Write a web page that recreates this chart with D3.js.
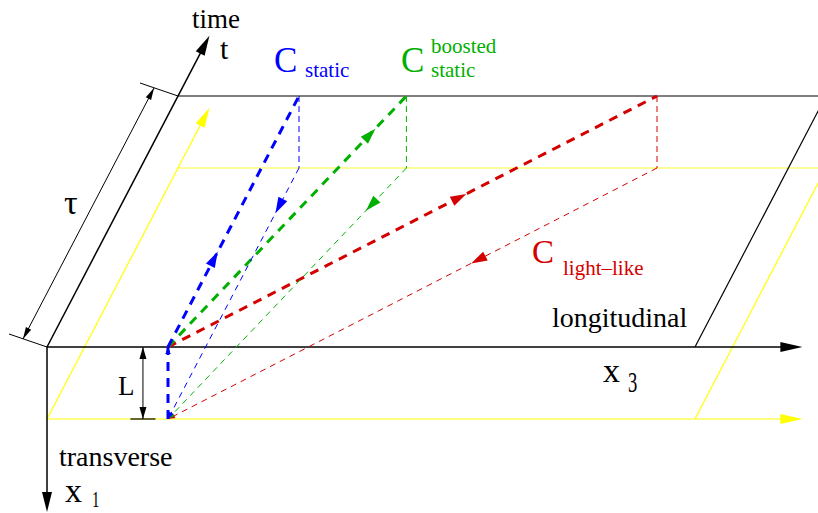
<!DOCTYPE html>
<meta charset="utf-8">
<style>
body { margin: 0; background: #fff; }
</style>
<svg width="818" height="513"></svg>
<script src="https://d3js.org/d3.v7.min.js"></script>
<script>

// Wilson loops in (x3, t, x1) space. t in units of tau, x1 in units of L,
// x3 in units of tau (light-like loop spans one tau along x3).
var loopNames  = ["static", "boosted", "light-like"];
var loopColors = ["#0000ff", "#00b000", "#d40000"];
var loopDx3    = [0, 0.30, 1.0];     // longitudinal extent of each loop
var loopStart  = 0.338;              // x3 where all loops start
var arrowThick = [0.38, 0.87, 0.61]; // arrow position along the thick leg
var arrowThin  = [0.18, 0.17, 0.38]; // arrow position along the thin leg

var planeX3   = 1.81;  // right edge of the drawn planes
var axisX3    = 2.11;  // tip of x3 axis
var axisT     = 1.24;  // tip of t axis
var axisX1    = 2.29;  // tip of x1 axis
var dimLX3    = 0.268; // where the L dimension sits

var serif = "Liberation Serif, DejaVu Serif, serif";

var svg = d3.select("svg");

// oblique projection: one scale per screen component
var x3px = d3.scaleLinear().domain([0, 1]).range([0, 358]),
    tpx  = d3.scaleLinear().domain([0, 1]).range([0, 131]),
    tpy  = d3.scaleLinear().domain([0, 1]).range([0, -251]),
    x1py = d3.scaleLinear().domain([0, 1]).range([0, 72]);

var g = svg.append("g").attr("transform", "translate(47,347)");

function P(x3, t, x1) {
  return [x3px(x3) + tpx(t), tpy(t) + x1py(x1 || 0)];
}

function line(a, b, color, w, dash) {
  return g.append("line")
      .attr("x1", a[0]).attr("y1", a[1])
      .attr("x2", b[0]).attr("y2", b[1])
      .attr("stroke", color)
      .attr("stroke-width", w)
      .attr("stroke-dasharray", dash || null);
}

// filled arrowhead with tip at p, pointing along direction a->b
function head(a, b, p, color, len, hw) {
  var dx = b[0] - a[0], dy = b[1] - a[1], n = Math.hypot(dx, dy);
  dx /= n; dy /= n;
  var bx = p[0] - dx * len, by = p[1] - dy * len;
  g.append("path")
      .attr("d", "M" + p + "L" + [bx - dy * hw, by + dx * hw] + "L" + [bx + dy * hw, by - dx * hw] + "Z")
      .attr("fill", color);
}

function lerp(a, b, f) { return [a[0] + (b[0] - a[0]) * f, a[1] + (b[1] - a[1]) * f]; }

// yellow plane at x1 = L
line(P(0, 0, 1), P(axisX3 - 0.05, 0, 1), "#ffff00", 1.2);
head(P(0, 0, 1), P(axisX3, 0, 1), P(axisX3, 0, 1), "#ffff00", 22, 5);
line(P(0, 0, 1), P(0, axisT - 0.05, 1), "#ffff00", 1.2);
head(P(0, 0, 1), P(0, axisT, 1), P(0, axisT, 1), "#ffff00", 20, 5);
line(P(0, 1, 1), P(planeX3, 1, 1), "#ffff00", 0.8);
line(P(planeX3, 0, 1), P(planeX3, 1, 1), "#ffff00", 1.2);

// black plane at x1 = 0
line(P(0, 1), P(planeX3, 1), "#000", 1.2);
line(P(planeX3, 0), P(planeX3, 1), "#000", 1.2);

// axes
line(P(0, 0), P(axisX3 - 0.05, 0), "#000", 1.5);
head(P(0, 0), P(axisX3, 0), P(axisX3, 0), "#000", 22, 5);
line(P(0, 0), P(0, axisT - 0.05), "#000", 1.5);
head(P(0, 0), P(0, axisT), P(0, axisT), "#000", 20, 5);
line(P(0, 0), P(0, 0, axisX1 - 0.2), "#000", 1.5);
head(P(0, 0), P(0, 0, axisX1), P(0, 0, axisX1), "#000", 20, 5);

// tau dimension
var tick = [-38, -13], off = [-24, -8];
[0, 1].forEach(function(t) {
  var p = P(0, t);
  line(p, [p[0] + tick[0], p[1] + tick[1]], "#000", 1);
});
var d0 = P(0, 0), d1 = P(0, 1);
d0 = [d0[0] + off[0], d0[1] + off[1]];
d1 = [d1[0] + off[0], d1[1] + off[1]];
line(d0, d1, "#000", 1);
head(d0, d1, d1, "#000", 12, 3);
head(d1, d0, d0, "#000", 12, 3);

// L dimension
var l0 = P(dimLX3, 0, 0), l1 = P(dimLX3, 0, 1);
line(l0, l1, "#000", 1);
head(l0, l1, l1, "#000", 12, 3.5);
head(l1, l0, l0, "#000", 12, 3.5);
line(P(dimLX3 - 0.035, 0, 1), P(dimLX3 + 0.035, 0, 1), "#000", 1.2);

// loops, drawn back to front
loopNames.forEach(function(name, i) {
  var i2 = loopNames.length - 1 - i;
  var c = loopColors[i2], dx = loopDx3[i2];
  var A = P(loopStart, 0, 0), B = P(loopStart + dx, 1, 0),
      C = P(loopStart + dx, 1, 1), D = P(loopStart, 0, 1);
  line(A, B, c, 3, "9,7");
  line(B, C, c, 1, "6,4");
  line(C, D, c, 1, "6,5");
  head(A, B, lerp(A, B, arrowThick[i2]), c, 16, 5);
  head(C, D, lerp(C, D, arrowThin[i2]), c, 16, 5);
  head(C, D, D, c, 7, 2.5);
  head(D, A, A, c, 7, 2.5);
});
line(P(loopStart, 0, 1), P(loopStart, 0, 0), loopColors[0], 3, "9,7");

// labels
function label(x, y, s, size, color) {
  return svg.append("text").attr("x", x).attr("y", y)
      .style("font-family", serif)
      .attr("font-size", size).attr("fill", color || "#000").text(s);
}
label(192, 28, "time", 27);
label(220, 59, "t", 30);
label(64, 214, "τ", 34);
label(552, 327, "longitudinal", 28);
label(59, 466, "transverse", 28);
label(118, 395, "L", 27);
label(603, 382, "x", 34);
label(65, 502, "x", 34);
svg.append("text").attr("transform", "translate(92,507) scale(0.62,1)")
    .style("font-family", serif).attr("font-size", 24).text("1");
svg.append("text").attr("transform", "translate(628,392) scale(0.62,1)")
    .style("font-family", serif).attr("font-size", 30).text("3");

label(274, 72, "C", 35, loopColors[0]);
label(305, 77, "static", 21, loopColors[0]);
label(401, 72, "C", 35, loopColors[1]);
label(431, 53, "boosted", 21, loopColors[1]);
label(431, 77, "static", 21, loopColors[1]);
label(532, 263, "C", 33, loopColors[2]);
label(563, 275, "light–like", 21, loopColors[2]);

</script>
